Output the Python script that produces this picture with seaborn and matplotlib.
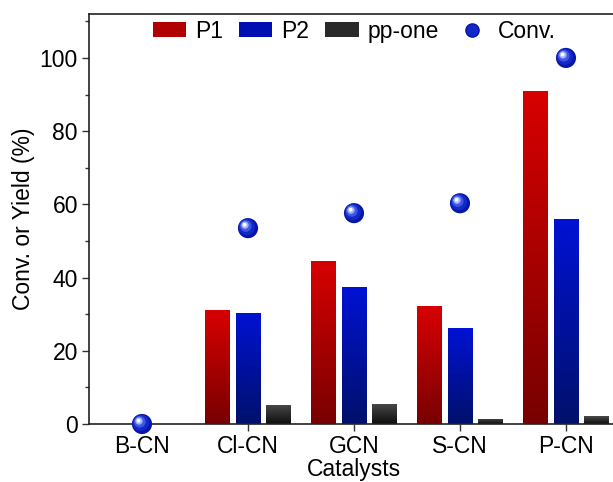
import numpy as np
import pandas as pd
import seaborn as sns
import matplotlib.pyplot as plt
from matplotlib import transforms
from matplotlib.colors import LinearSegmentedColormap
from matplotlib.patches import Patch
from matplotlib.lines import Line2D
from matplotlib.ticker import AutoMinorLocator

# data
catalysts = ["B-CN", "Cl-CN", "GCN", "S-CN", "P-CN"]
p1 = [0, 31.2, 44.6, 32.1, 91.0]
p2 = [0, 30.4, 37.3, 26.1, 56.1]
pp_one = [0, 5.2, 5.6, 1.5, 2.1]
conv = [0, 53.5, 57.6, 60.3, 100.0]
series = ["P1", "P2", "pp-one"]

df = pd.DataFrame({
    "Catalysts": catalysts * 3,
    "series": np.repeat(series, len(catalysts)),
    "value": p1 + p2 + pp_one,
})
conv_df = pd.DataFrame({"Catalysts": catalysts, "Conv.": conv})

# (top, bottom) colours of the bar gradients
grads = {"P1": ("#d80000", "#780000"),
         "P2": ("#0012d4", "#00106a"),
         "pp-one": ("#4a4a4a", "#0e0e0e")}
mid = {"P1": "#b00000", "P2": "#0010b0", "pp-one": "#2a2a2a"}

sns.set_theme(style="ticks")
plt.rcParams["font.family"] = ["Liberation Sans", "DejaVu Sans"]
plt.rcParams.update({"text.color": "black", "axes.labelcolor": "black",
                     "xtick.color": "black", "ytick.color": "black"})
fs = 16.5

fig = plt.figure(figsize=(6.13, 4.82), dpi=100)
ax = fig.add_axes([89 / 613, 58 / 482, 530 / 613, 410 / 482])

sns.barplot(data=df, x="Catalysts", y="value", hue="series", hue_order=series,
            palette=mid, width=0.87, gap=0.19, ax=ax, legend=False,
            linewidth=0, zorder=2)

# vertical gradient inside each bar
for name, cont in zip(series, ax.containers):
    cmap = LinearSegmentedColormap.from_list(name, [grads[name][1], grads[name][0]])
    for bar in cont:
        h = bar.get_height()
        if h <= 0:
            continue
        x0, w = bar.get_x(), bar.get_width()
        im = ax.imshow(np.linspace(0, 1, 256).reshape(-1, 1),
                       extent=[x0, x0 + w, 0, h], origin="lower",
                       aspect="auto", cmap=cmap, zorder=2.5)
        im.set_clip_path(bar)

# conversion "spheres": stacked circles with a highlight
layers = [(0, 0, 210, "#0716a6"), (-1.2, 1.2, 140, "#1427c8"),
          (-2.2, 2.2, 70, "#3d58e6"), (-3.0, 3.0, 28, "#9fb0f7"),
          (-3.4, 3.4, 8, "#ffffff")]
for dx, dy, s, c in layers:
    tr = transforms.offset_copy(ax.transData, fig=fig, x=dx, y=dy, units="dots")
    sns.scatterplot(data=conv_df, x="Catalysts", y="Conv.", s=s, color=c,
                    edgecolor="none", linewidth=0, transform=tr,
                    clip_on=False, zorder=6, ax=ax, legend=False)

ax.set_aspect("auto")
ax.set_xlim(-0.5, 4.5)
ax.set_ylim(0, 112)
ax.set_yticks(range(0, 101, 20))
ax.yaxis.set_minor_locator(AutoMinorLocator(2))

ax.set_xlabel("Catalysts", fontsize=fs, labelpad=0)
ax.set_ylabel("Conv. or Yield (%)", fontsize=fs, labelpad=3)
ax.tick_params(axis="both", which="major", labelsize=fs, length=5, width=1,
               color="#333333", labelcolor="black", direction="out", pad=3)
ax.tick_params(axis="y", which="minor", length=3, width=1, color="#333333")

for side in ["left", "bottom", "top"]:
    ax.spines[side].set_linewidth(1.2)
    ax.spines[side].set_color("#222222")
ax.spines["right"].set_visible(False)

handles = [Patch(facecolor=mid[s], edgecolor="none") for s in series]
handles.append(Line2D([], [], linestyle="none", marker="o", markersize=9.5,
                      markerfacecolor="#1427c8", markeredgecolor="#0716a6"))
ax.legend(handles, series + ["Conv."], loc="upper center",
          bbox_to_anchor=(0.5, 1.017), ncol=4, frameon=False, fontsize=fs,
          handlelength=1.45, handleheight=0.65, handletextpad=0.4,
          columnspacing=0.7, borderaxespad=0.15)

fig.savefig("out.png", dpi=100)
